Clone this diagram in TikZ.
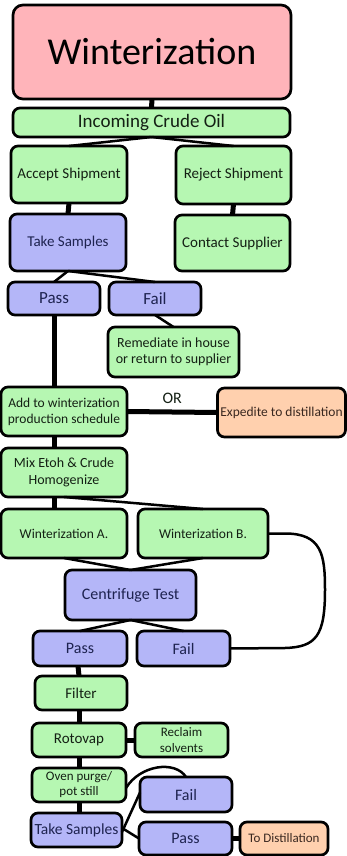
\documentclass[tikz,border=0pt]{standalone}
\usepackage{fontspec}
\setmainfont{Carlito}
\definecolor{gfill}{HTML}{B6F7B2}
\definecolor{bfill}{HTML}{B4B6F8}
\definecolor{ofill}{HTML}{FFD0AE}
\definecolor{pfill}{HTML}{FFB4BA}
\definecolor{btext}{HTML}{1E2350}
\definecolor{gtext}{HTML}{142014}
\definecolor{otext}{HTML}{3A2820}
\tikzset{
  box/.style={draw=black, line width=2.7pt, rounded corners=7pt, align=center, inner sep=1pt, outer sep=0pt},
  gbox/.style={box, fill=gfill, text=gtext},
  bbox/.style={box, fill=bfill, text=btext},
  obox/.style={box, fill=ofill, text=otext},
  pbox/.style={box, fill=pfill, text=black, rounded corners=10pt},
  conn/.style={line width=2.5pt},
  thk/.style={line width=5pt},
}
\begin{document}
\begin{tikzpicture}[x=1pt,y=-1pt]
\useasboundingbox (0,0) rectangle (347,856);
% nodes
\node[pbox, minimum width=278pt, minimum height=94pt, font=\fontsize{38}{40}\selectfont] (win) at (152,52) {Winterization};
\node[gbox, minimum width=277pt, minimum height=29pt, font=\fontsize{19}{22}\selectfont] (inc) at (151.5,122.5) {Incoming Crude Oil};
\node[gbox, minimum width=116pt, minimum height=57pt, font=\fontsize{15}{18}\selectfont] (acc) at (69,174.5) {Accept Shipment};
\node[gbox, minimum width=115pt, minimum height=58pt, font=\fontsize{15}{18}\selectfont] (rej) at (233.5,175) {Reject Shipment};
\node[bbox, minimum width=116pt, minimum height=57pt, font=\fontsize{15}{18}\selectfont] (ts1) at (68,242.5) {Take Samples};
\node[gbox, minimum width=115pt, minimum height=56pt, font=\fontsize{15}{18}\selectfont] (cs) at (232.5,243) {Contact Supplier};
\node[bbox, minimum width=92pt, minimum height=33pt, font=\fontsize{17}{20}\selectfont] (pass1) at (54,298.5) {Pass};
\node[bbox, minimum width=92pt, minimum height=33pt, font=\fontsize{17}{20}\selectfont] (fail1) at (155,298.5) {Fail};
\node[gbox, minimum width=131pt, minimum height=50pt, font=\fontsize{14}{16.5}\selectfont] (rem) at (173.5,352) {Remediate in house\\or return to supplier};
\node[gbox, minimum width=126pt, minimum height=49pt, font=\fontsize{13.5}{16}\selectfont] (add) at (64,411.5) {Add to winterization\\production schedule};
\node[obox, minimum width=128pt, minimum height=49pt, font=\fontsize{13.5}{16}\selectfont] (exp) at (281.5,412.5) {Expedite to distillation};
\node[gbox, minimum width=126pt, minimum height=49pt, font=\fontsize{14}{16.5}\selectfont] (mix) at (64,472.5) {Mix Etoh \& Crude\\Homogenize};
\node[gbox, minimum width=126pt, minimum height=49pt, font=\fontsize{13.5}{16}\selectfont] (wa) at (64,533.5) {Winterization A.};
\node[gbox, minimum width=130pt, minimum height=49pt, font=\fontsize{13.5}{16}\selectfont] (wb) at (203,533.5) {Winterization B.};
\node[bbox, minimum width=131pt, minimum height=50pt, font=\fontsize{16}{19}\selectfont] (cen) at (130.5,595) {Centrifuge Test};
\node[bbox, minimum width=94pt, minimum height=35pt, font=\fontsize{16}{19}\selectfont] (pass2) at (80,648.5) {Pass};
\node[bbox, minimum width=93pt, minimum height=35pt, font=\fontsize{16}{19}\selectfont] (fail2) at (183.5,648.5) {Fail};
\node[gbox, minimum width=92pt, minimum height=34pt, font=\fontsize{15}{18}\selectfont] (fil) at (81,693) {Filter};
\node[gbox, minimum width=94pt, minimum height=34pt, font=\fontsize{15}{18}\selectfont] (rot) at (79,740) {Rotovap};
\node[gbox, minimum width=93pt, minimum height=34pt, font=\fontsize{13}{15.5}\selectfont] (rec) at (181.5,740) {Reclaim\\solvents};
\node[gbox, minimum width=94pt, minimum height=34pt, font=\fontsize{13}{15}\selectfont] (ov) at (79,785) {Oven purge/\\pot still};
\node[bbox, minimum width=92pt, minimum height=35pt, font=\fontsize{16}{19}\selectfont] (fail3) at (186,794.5) {Fail};
\node[bbox, minimum width=91pt, minimum height=34pt, font=\fontsize{15.5}{18}\selectfont] (ts2) at (76.5,830) {Take Samples};
\node[bbox, minimum width=93pt, minimum height=33pt, font=\fontsize{16}{19}\selectfont] (pass3) at (185.5,838.5) {Pass};
\node[obox, minimum width=88pt, minimum height=33pt, font=\fontsize{13}{15}\selectfont] (td) at (284,838.5) {To Distillation};
% connectors
\draw[thk] (win.south) -- (inc.north);
\draw[conn] (inc.south) -- (acc.north);
\draw[conn] (inc.south) -- (rej.north);
\draw[thk] (acc.south) -- (ts1.north);
\draw[thk] (rej.south) -- (cs.north);
\draw[conn] (ts1.south) -- (pass1.north);
\draw[conn] (ts1.south) -- (fail1.north);
\draw[thk] (pass1.south) -- (pass1.south |- add.north);
\draw[conn] (fail1.south) -- (rem.north);
\draw[thk] (add.east) -- node[above=3pt, font=\fontsize{16}{19}\selectfont, text=gtext] (or) {OR} (exp.west);
\draw[thk] (pass1.south |- add.south) -- (pass1.south |- mix.north);
\draw[thk] (pass1.south |- mix.south) -- (pass1.south |- wa.north);
\draw[conn] (mix.south) -- (wb.north);
\draw[conn] (wa.south) -- (cen.north);
\draw[conn] (wb.south) -- (cen.north);
\draw[conn] (cen.south) -- (pass2.north);
\draw[conn] (cen.south) -- (fail2.north);
\draw[conn] (wb.east) -- (285,533.5) .. controls (322,533.5) and (325,555) .. (325,590) .. controls (325,636) and (316,647) .. (285,648) -- (fail2.east);
\draw[thk] ([xshift=-2pt]pass2.south) -- ([xshift=-2pt]fil.north);
\draw[thk] (fil.south -| rot.north) -- (rot.north);
\draw[thk] (rot.east) -- (rec.west);
\draw[thk] (rot.south) -- (ov.north);
\draw[conn] ([yshift=-3pt]ov.east) .. controls (140,765) and (175,760) .. (fail3.north);
\draw[thk] (ov.south) -- (ov.south |- ts2.north);
\draw[conn] ([yshift=-2pt]ts2.east) -- ([yshift=2pt]fail3.west);
\draw[conn] ([yshift=2pt]ts2.east) -- (pass3.west);
\draw[thk] (pass3.east) -- (td.west);
\end{tikzpicture}
\end{document}
